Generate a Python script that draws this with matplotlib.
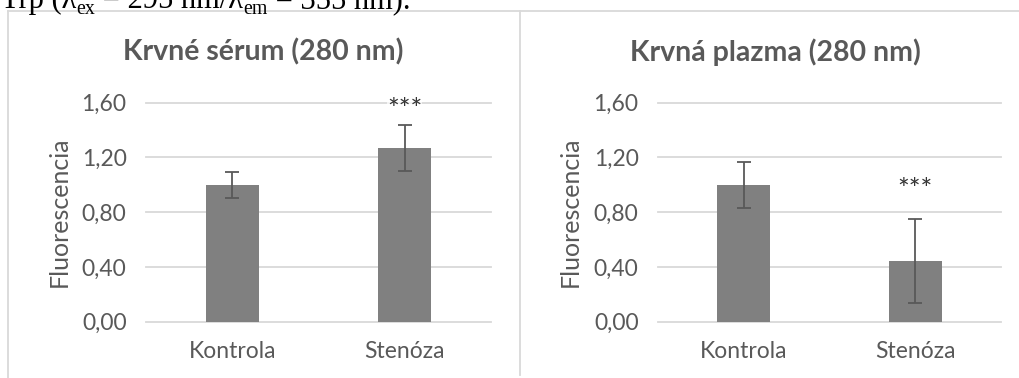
import numpy as np
import matplotlib
matplotlib.use("Agg")
import matplotlib.pyplot as plt
from matplotlib.lines import Line2D

# data
categories = ["Kontrola", "Stenóza"]
titles = ["Krvné sérum (280 nm)", "Krvná plazma (280 nm)"]
serum_mean = [1.00, 1.27]
serum_err = [0.095, 0.167]
plazma_mean = [1.00, 0.445]
plazma_err = [0.168, 0.305]
yticks = [0.0, 0.4, 0.8, 1.2, 1.6]
sig_label = "***"
ylabel = "Fluorescencia"
# caption above the charts: (text, is_subscript)
header = [("Trp (λ", False), ("ex", True), (" = 295 nm/λ", False),
          ("em", True), (" = 355 nm).", False)]

W, H = 1019, 378
GRID = "#d9d9d9"
TXT = "#595959"
BAR = "#808080"

plt.rcParams["font.family"] = ["Lato", "DejaVu Sans"]

fig = plt.figure(figsize=(W / 100, H / 100), dpi=100)
fig.patch.set_facecolor("white")
renderer = fig.canvas.get_renderer()

# frame of the two excel charts (right one cropped)
line_kw = dict(transform=fig.transFigure, color=GRID, lw=1.3)
fig.add_artist(Line2D([8 / W, 1], [1 - 11 / H, 1 - 11 / H], **line_kw))
fig.add_artist(Line2D([8 / W, 8 / W], [0, 1 - 11 / H], **line_kw))
fig.add_artist(Line2D([520 / W, 520 / W], [3 / H, 1 - 11 / H], **line_kw))

# caption text cut at the top of the image
hx = 1.0
hsize = 22
for s, sub in header:
    fs = hsize * 0.65 if sub else hsize
    dy = -0.2 * hsize * 100 / 72 if sub else 0
    t = fig.text(hx / W, 1 - (8 - dy) / H, s, fontsize=fs, family="Liberation Serif",
                 color="black", va="baseline", ha="left")
    hx += t.get_window_extent(renderer).width

panels = [
    dict(rect=[146 / W, (H - 321.7) / H, 345 / W, 219 / H], mean=serum_mean,
         err=serum_err, title=titles[0], tx=263, lx=71, sig_y=1.48, sig_i=1),
    dict(rect=[658 / W, (H - 321.7) / H, 343 / W, 219 / H], mean=plazma_mean,
         err=plazma_err, title=titles[1], tx=775, lx=582, sig_y=0.90, sig_i=1),
]

x = np.arange(len(categories))
for p in panels:
    ax = fig.add_axes(p["rect"])
    for v in yticks:
        ax.axhline(v, color=GRID, lw=1.3, zorder=0, clip_on=False)
    ax.bar(x, p["mean"], width=0.31, color=BAR, zorder=2,
           yerr=p["err"],
           error_kw=dict(ecolor=TXT, elinewidth=1.3, capsize=4.7, capthick=1.3, zorder=3))
    ax.set_xlim(-0.5, 1.5)
    ax.set_ylim(0, 1.6)
    ax.set_yticks(yticks)
    ax.set_yticklabels([f"{v:.2f}".replace(".", ",") for v in yticks])
    ax.set_xticks(x)
    ax.set_xticklabels(categories)
    ax.tick_params(length=0, labelsize=16.5, labelcolor=TXT)
    ax.tick_params(axis="y", pad=14)
    ax.tick_params(axis="x", pad=14)
    for s in ax.spines.values():
        s.set_visible(False)
    ax.set_ylabel(ylabel, fontsize=18, color=TXT)
    axw = p["rect"][2] * W
    ax.yaxis.set_label_coords((p["lx"] - p["rect"][0] * W) / axw, 0.5)
    ax.text(x[p["sig_i"]], p["sig_y"], sig_label, ha="center", va="baseline",
            fontsize=20, color="#333333", zorder=4,
            bbox=dict(facecolor="white", edgecolor="none", alpha=0.7, pad=0))
    fig.text(p["tx"] / W, 1 - 52 / H, p["title"], ha="center", va="center",
             fontsize=20.5, fontweight="bold", color=TXT)

fig.savefig("out.png", dpi=100)
